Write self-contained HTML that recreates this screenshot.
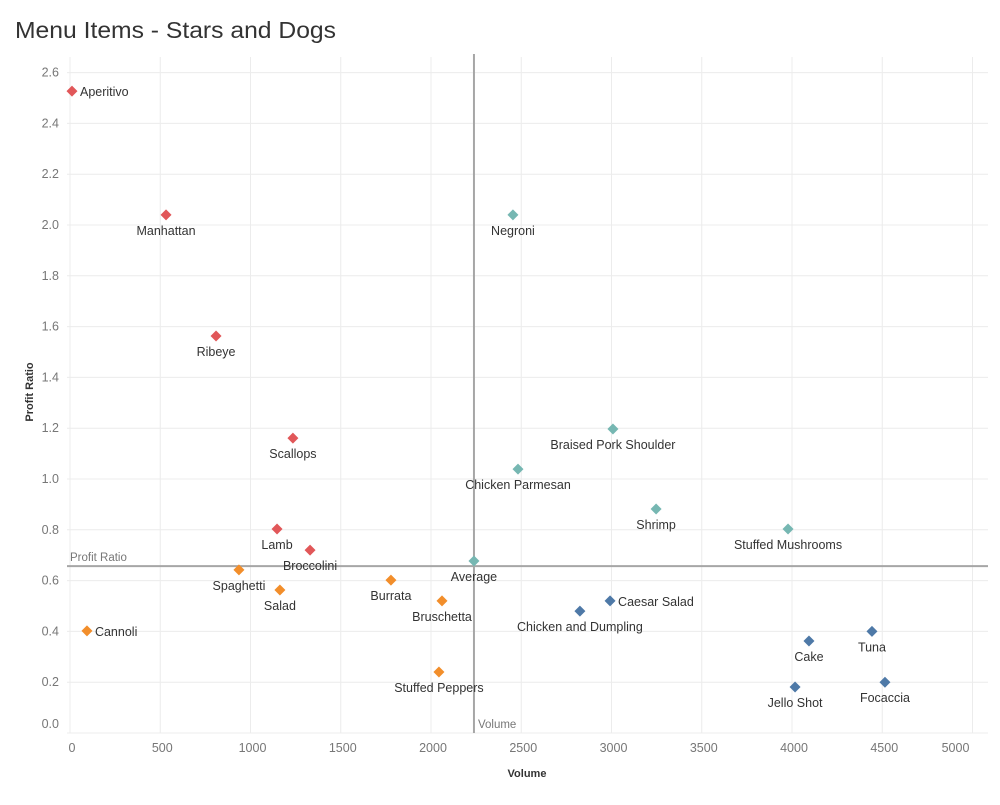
<!DOCTYPE html>
<html><head><meta charset="utf-8">
<style>
body{margin:0;background:#fff;font-family:"Liberation Sans",sans-serif;}
svg text{font-family:"Liberation Sans",sans-serif;}
</style></head>
<body>
<svg id="chart" width="1000" height="800">
<text x="15" y="38" font-size="23" fill="#333" textLength="321" lengthAdjust="spacingAndGlyphs">Menu Items - Stars and Dogs</text>
<g id="grid"></g><g id="refs"></g><g id="marks"></g><g id="labels"></g><g id="axes"></g>
<text x="527" y="777" font-size="11" font-weight="bold" fill="#333" text-anchor="middle">Volume</text>
<text transform="translate(33,392) rotate(-90)" font-size="11" font-weight="bold" fill="#333" text-anchor="middle">Profit Ratio</text>
</svg>
<script>
const names=["Aperitivo","Manhattan","Ribeye","Scallops","Lamb","Broccolini","Negroni","Braised Pork Shoulder","Chicken Parmesan","Shrimp","Stuffed Mushrooms","Average","Spaghetti","Salad","Burrata","Bruschetta","Cannoli","Stuffed Peppers","Chicken and Dumpling","Caesar Salad","Cake","Tuna","Jello Shot","Focaccia"];
const volume=[11,532,809,1235,1147,1330,2454,3008,2482,3247,3978,2238,936,1163,1778,2061,94,2044,2825,2992,4094,4443,4017,4515];
const profitRatio=[2.527,2.04,1.563,1.161,0.803,0.72,2.04,1.197,1.039,0.882,0.803,0.677,0.642,0.563,0.602,0.52,0.402,0.24,0.48,0.52,0.362,0.40,0.181,0.20];
const quadrant=["r","r","r","r","r","r","t","t","t","t","t","t","o","o","o","o","o","o","b","b","b","b","b","b"];
const labelRight=["Aperitivo","Cannoli","Caesar Salad"];
const xTicks=[0,500,1000,1500,2000,2500,3000,3500,4000,4500,5000];
const yTicks=[0,0.2,0.4,0.6,0.8,1.0,1.2,1.4,1.6,1.8,2.0,2.2,2.4,2.6];
const avgVolume=2238, avgProfit=0.657;
const colors={r:"#e15759",t:"#76b7b2",o:"#f28e2b",b:"#4e79a7"};
const X=v=>70+v*0.1805, Y=v=>733-v*254;
const NS="http://www.w3.org/2000/svg";
function mk(tag,parent,attrs){const e=document.createElementNS(NS,tag);for(const k in attrs)e.setAttribute(k,attrs[k]);document.getElementById(parent).appendChild(e);return e;}
const L=67,R=988,T=57,B=733;
xTicks.forEach(t=>{
  const g=mk("line","grid",{x1:X(t),x2:X(t),y1:T,y2:B,stroke:"#ececec","stroke-width":1});
  
  
  const tx=mk("text","axes",{x:t===5000?X(t)-17:X(t)+2,y:752,"font-size":12.5,fill:"#777","text-anchor":"middle"});
  tx.textContent=t;
  
  
});
yTicks.forEach(t=>{
  const g=mk("line","grid",{x1:L,x2:R,y1:Y(t),y2:Y(t),stroke:"#ececec","stroke-width":1});
  
  
  const tx=mk("text","axes",{x:59,y:(t===0?Y(t)-5:Y(t)+4),"font-size":12.5,fill:"#777","text-anchor":"end"});
  tx.textContent=t.toFixed(1);
  
  
});
const hl=mk("line","refs",{x1:L,x2:R,y1:Y(avgProfit),y2:Y(avgProfit),stroke:"#a6a6a6","stroke-width":2});


const vl=mk("line","refs",{x1:X(avgVolume),x2:X(avgVolume),y1:54,y2:B,stroke:"#a6a6a6","stroke-width":2});


const hlt=mk("text","refs",{x:70,y:Y(avgProfit)-5,"font-size":11.5,fill:"#777"});hlt.textContent="Profit Ratio";


const vlt=mk("text","refs",{x:X(avgVolume)+4,y:728,"font-size":11.5,fill:"#777"});vlt.textContent="Volume";


names.forEach((n,i)=>{
  const x=X(volume[i]),y=Y(profitRatio[i]),s=5.5;
  const p=mk("polygon","marks",{points:`${x},${y-s} ${x+s},${y} ${x},${y+s} ${x-s},${y}`,fill:colors[quadrant[i]]});
  
  
  const right=labelRight.includes(n);
  const t=mk("text","labels",{x:right?x+8:x,y:right?y+5:y+20,"font-size":12.5,fill:"#333","text-anchor":right?"start":"middle"});
  t.textContent=n;
  
  
});
</script>
</body></html>
